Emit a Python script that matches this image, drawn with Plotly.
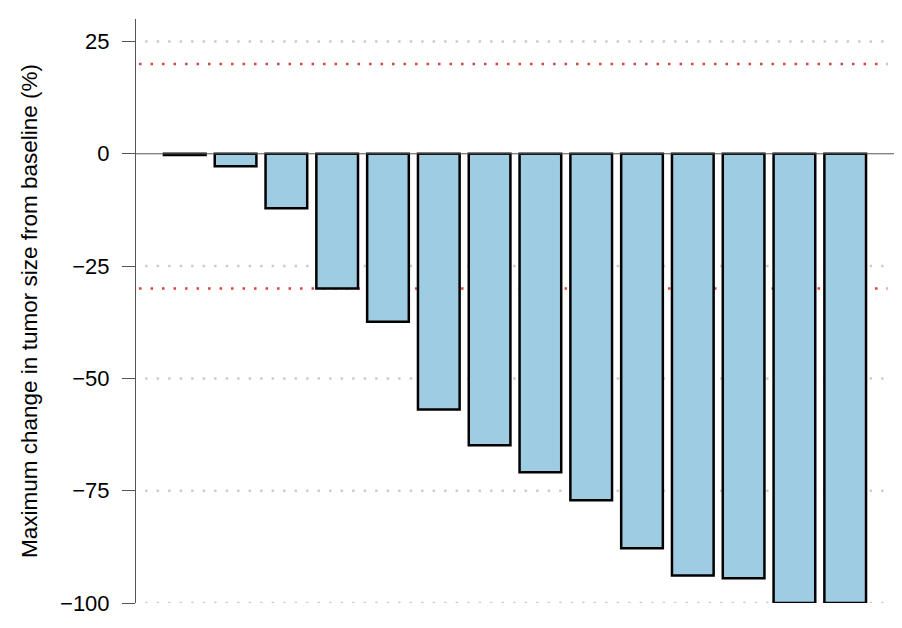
import plotly.graph_objects as go

patients = list(range(1, 15))
max_change = [-0.3, -2.8, -12.1, -30.0, -37.4, -56.9, -64.9, -70.9, -77.1, -87.8, -93.9, -94.5, -100.0, -100.0]
y_ticks = [25, 0, -25, -50, -75, -100]
threshold_lines = [20, -30]

fig = go.Figure()
fig.add_trace(go.Bar(
    x=patients, y=max_change,
    marker=dict(color="#9ecde3", line=dict(color="black", width=2.5)),
    width=0.82, cliponaxis=False, showlegend=False,
))

shapes = []
for t in y_ticks:
    if t == 0:
        continue
    shapes.append(dict(type="line", xref="paper", x0=0.012, x1=0.99, yref="y", y0=t, y1=t,
                       line=dict(color="#cccccc", width=2.5, dash="2.5px,9px"), layer="below"))
for t in threshold_lines:
    shapes.append(dict(type="line", xref="paper", x0=0.004, x1=0.99, yref="y", y0=t, y1=t,
                       line=dict(color="#d9443a", width=2.5, dash="2.5px,9px"), layer="below"))
shapes.append(dict(type="line", xref="paper", x0=0, x1=1, yref="y", y0=0, y1=0,
                   line=dict(color="#555555", width=1), layer="above"))

fig.update_layout(
    width=894, height=620,
    margin=dict(l=128, r=7, t=11, b=25, autoexpand=False),
    plot_bgcolor="white", paper_bgcolor="white",
    font=dict(family="Liberation Sans, Arial, sans-serif", color="black"),
    shapes=shapes,
    xaxis=dict(range=[0.04, 14.98], showticklabels=False, showgrid=False, zeroline=False,
               showline=False, ticks=""),
    yaxis=dict(range=[-100, 30], tickvals=y_ticks, ticks="outside", ticklen=13,
               tickcolor="#555555", tickwidth=1, showline=True, linecolor="#555555", linewidth=1,
               showgrid=False, zeroline=False, tickfont=dict(size=22), ticklabelstandoff=8,
               automargin=False,
               title=dict(text="Maximum change in tumor size from baseline (%)", font=dict(size=22.5), standoff=16)),
)

fig.write_html("out.html")
